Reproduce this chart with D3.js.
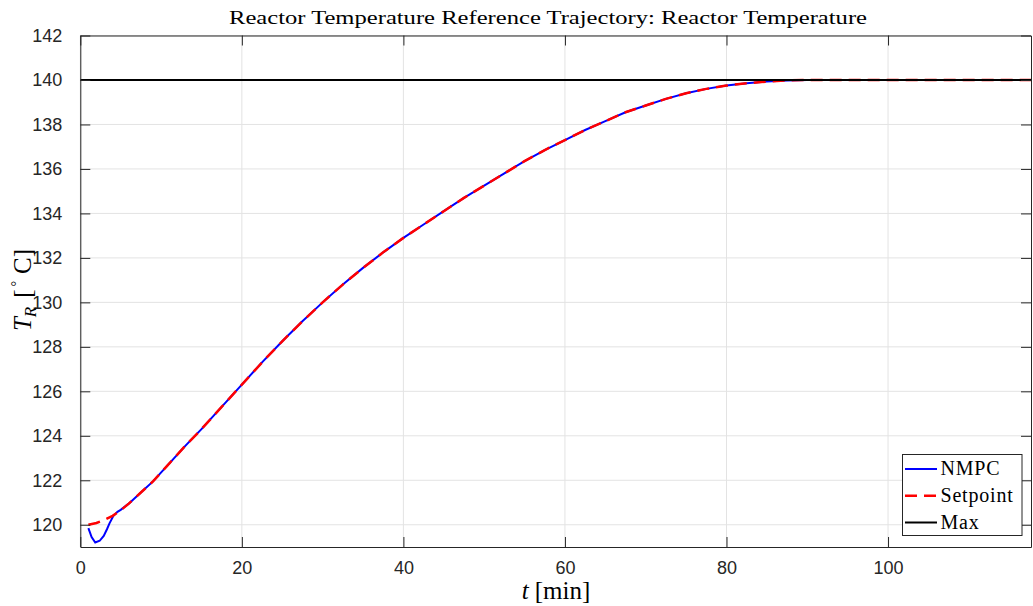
<!DOCTYPE html>
<html>
<head>
<meta charset="utf-8">
<script src="https://cdn.jsdelivr.net/npm/d3@7/dist/d3.min.js"></script>
<style>
  html, body { margin: 0; padding: 0; background: #fff; }
  svg { display: block; }
</style>
</head>
<body>
<svg id="chart" width="1033" height="606"></svg>
<script>
// ---- data ----
const setpointT = [1, 2, 3, 4, 5, 6, 7.5, 9, 11, 13, 15, 17.5, 20, 22.5, 25, 27.5, 30, 32.5, 35, 37.5, 40, 42.5, 45, 47.5, 50, 52.5, 55, 57.5, 60, 62.5, 65, 67.5, 70, 72.5, 75, 77.5, 80, 82.5, 85, 87.5, 90, 95, 100, 105, 110, 115, 117.7];
const setpointV = [120.0, 120.08, 120.22, 120.4, 120.65, 120.95, 121.45, 121.95, 122.75, 123.55, 124.3, 125.3, 126.3, 127.3, 128.25, 129.15, 130.0, 130.8, 131.55, 132.25, 132.9, 133.5, 134.1, 134.7, 135.25, 135.8, 136.35, 136.85, 137.3, 137.75, 138.15, 138.55, 138.85, 139.15, 139.4, 139.6, 139.75, 139.85, 139.93, 139.98, 140.0, 140.0, 140.0, 140.0, 140.0, 140.0, 140.0];
const nmpcT = [1, 1.4, 1.85, 2.4, 2.9, 3.3, 3.6, 4.1, 4.6, 5, 6, 7.5, 9, 11, 13, 15, 17.5, 20, 22.5, 25, 27.5, 30, 32.5, 35, 37.5, 40, 42.5, 45, 47.5, 50, 52.5, 55, 57.5, 60, 62.5, 65, 67.5, 70, 72.5, 75, 77.5, 80, 82.5, 85, 87.5, 90, 95, 100, 105, 110, 115, 117.7];
const nmpcV = [119.85, 119.45, 119.2, 119.28, 119.5, 119.8, 120.05, 120.4, 120.58, 120.67, 120.95, 121.45, 121.95, 122.75, 123.55, 124.3, 125.3, 126.3, 127.3, 128.25, 129.15, 130.0, 130.8, 131.55, 132.25, 132.9, 133.5, 134.1, 134.7, 135.25, 135.8, 136.35, 136.85, 137.3, 137.75, 138.15, 138.55, 138.85, 139.15, 139.4, 139.6, 139.75, 139.85, 139.93, 139.98, 140.0, 140.0, 140.0, 140.0, 140.0, 140.0, 140.0];
const maxT = [0, 117.7];
const maxV = [140, 140];
const xTicks = [0, 20, 40, 60, 80, 100];
const yTicks = [120, 122, 124, 126, 128, 130, 132, 134, 136, 138, 140, 142];
const legendLabels = ["NMPC", "Setpoint", "Max"];
const titleText = "Reactor Temperature Reference Trajectory: Reactor Temperature";

// ---- layout ----
const L = 80.3, R = 1031, T = 35.5, B = 547;
const svg = d3.select("#chart");
const x = d3.scaleLinear().domain([0, 117.7]).range([L, R]);
const y = d3.scaleLinear().domain([119, 142]).range([B, T]);
const axisColor = "#262626";
const serif = "'Liberation Serif', 'Times New Roman', serif";

// grid
const g = svg.append("g");
g.selectAll(".gx").data(xTicks).enter().append("line")
  .attr("x1", d => x(d)).attr("x2", d => x(d)).attr("y1", T).attr("y2", B)
  .attr("stroke", "#e3e3e3").attr("stroke-width", 1);
g.selectAll(".gy").data(yTicks).enter().append("line")
  .attr("x1", L).attr("x2", R).attr("y1", d => y(d)).attr("y2", d => y(d))
  .attr("stroke", "#e3e3e3").attr("stroke-width", 1);

// lines
const line = d3.line().x(d => x(d[0])).y(d => y(d[1]));
svg.append("clipPath").attr("id", "clip").append("rect")
  .attr("x", L).attr("y", T).attr("width", R - L).attr("height", B - T);
const plot = svg.append("g").attr("clip-path", "url(#clip)");
plot.append("path").datum(d3.zip(nmpcT, nmpcV)).attr("d", line)
  .attr("fill", "none").attr("stroke", "#0000ff").attr("stroke-width", 2);
plot.append("path").datum(d3.zip(setpointT, setpointV)).attr("d", line)
  .attr("fill", "none").attr("stroke", "#ff0000").attr("stroke-width", 2.5)
  .attr("stroke-dasharray", "12,7");
plot.append("path").datum(d3.zip(maxT, maxV)).attr("d", line)
  .attr("fill", "none").attr("stroke", "#000000").attr("stroke-width", 2);

// axes (ticks inward, box)
const tickLen = 10;
const axB = d3.axisBottom(x).tickValues(xTicks).tickSizeInner(-tickLen).tickSizeOuter(0).tickPadding(14);
const axT = d3.axisTop(x).tickValues(xTicks).tickSizeInner(-tickLen).tickSizeOuter(0).tickFormat("");
const axL = d3.axisLeft(y).tickValues(yTicks).tickSizeInner(-tickLen).tickSizeOuter(0).tickPadding(18);
const axR = d3.axisRight(y).tickValues(yTicks).tickSizeInner(-tickLen).tickSizeOuter(0).tickFormat("");

function style(sel) {
  sel.select(".domain").attr("stroke", axisColor).attr("stroke-width", 1);
  sel.selectAll(".tick line").attr("stroke", axisColor).attr("stroke-width", 1);
  sel.selectAll(".tick text").attr("fill", axisColor)
    .style("font-family", "'Liberation Sans', Arial, sans-serif").style("font-size", "18px");
}
svg.append("g").attr("transform", `translate(0,${B})`).call(axB).call(style);
svg.append("g").attr("transform", `translate(0,${T})`).call(axT).call(style);
svg.append("g").attr("transform", `translate(${L},0)`).call(axL).call(style);
svg.append("g").attr("transform", `translate(${R},0)`).call(axR).call(style);

// title
svg.append("text").attr("x", 548).attr("y", 24)
  .attr("text-anchor", "middle")
  .style("font-family", serif).style("font-size", "19px")
  .attr("fill", "#000")
  .attr("textLength", 638).attr("lengthAdjust", "spacingAndGlyphs")
  .text(titleText);

// x label
const xl = svg.append("text").attr("x", 556).attr("y", 599).attr("text-anchor", "middle")
  .style("font-family", serif).style("font-size", "25px")
  .attr("fill", "#000");
xl.append("tspan").style("font-style", "italic").text("t");
xl.append("tspan").attr("dx", 6).text("[min]");

// y label
const yl = svg.append("text").attr("transform", `translate(31,290) rotate(-90)`).attr("text-anchor", "middle")
  .style("font-family", serif).style("font-size", "25px")
  .attr("fill", "#000");
yl.append("tspan").style("font-style", "italic").text("T");
yl.append("tspan").style("font-style", "italic").style("font-size", "17px").attr("dy", 5).text("R");
yl.append("tspan").attr("dy", -5).attr("dx", 9).text("[");
yl.append("tspan").style("font-size", "14px").attr("dy", -10).attr("dx", 3).text("°");
yl.append("tspan").attr("dy", 10).attr("dx", 7).text("C]");

// legend
const lg = svg.append("g");
lg.append("rect").attr("x", 902.5).attr("y", 454.5).attr("width", 119.5).attr("height", 81)
  .attr("fill", "#fff").attr("stroke", axisColor).attr("stroke-width", 1);
const legStyles = [
  { c: "#0000ff", w: 2, dash: null },
  { c: "#ff0000", w: 2.5, dash: "12,7" },
  { c: "#000000", w: 2, dash: null }
];
const ly = d3.scalePoint().domain(legendLabels).range([469, 522.5]);
legendLabels.forEach((lab, i) => {
  const s = legStyles[i];
  const ln = lg.append("line").attr("x1", 905).attr("x2", 937).attr("y1", ly(lab)).attr("y2", ly(lab))
    .attr("stroke", s.c).attr("stroke-width", s.w);
  if (s.dash) ln.attr("stroke-dasharray", s.dash);
  lg.append("text").attr("x", 940.5).attr("y", ly(lab) + 6)
    .style("font-family", serif).style("font-size", "20px")
    .style("letter-spacing", "0.8px")
    .attr("fill", "#000").text(lab);
});
</script>
</body>
</html>
